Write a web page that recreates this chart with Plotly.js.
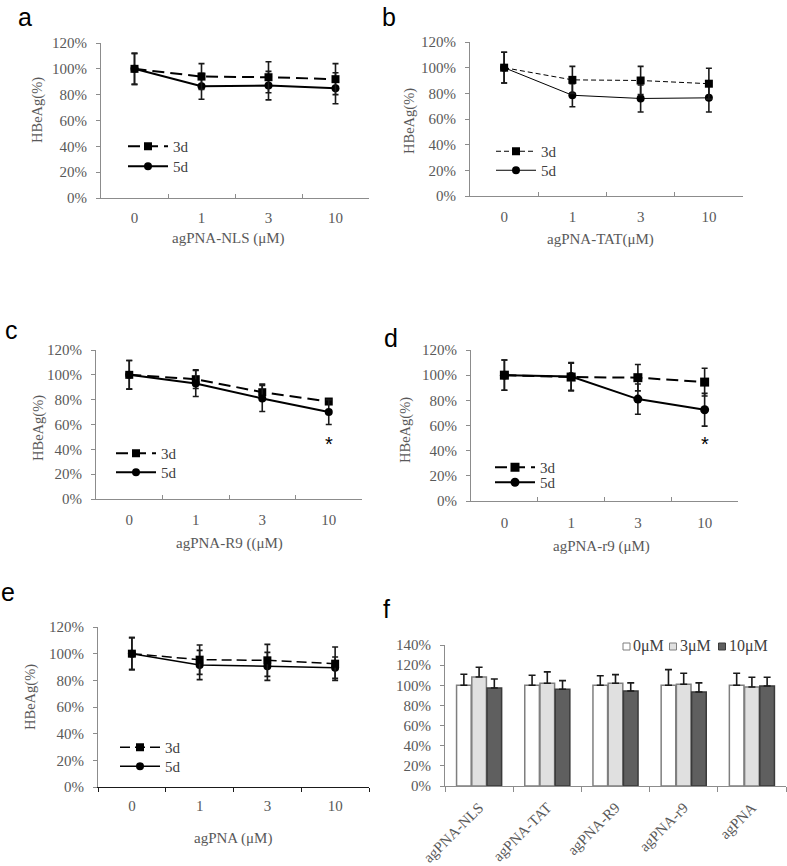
<!DOCTYPE html>
<html><head><meta charset="utf-8">
<script src="https://cdn.plot.ly/plotly-3.0.1.min.js"></script>
<style>html,body{margin:0;padding:0;background:#fff}#chart{width:787px;height:866px}</style>
</head><body><div id="chart"></div>
<script>
// ---------- data ----------
const doses = ['0', '1', '3', '10'];
const seriesNames = ['3d', '5d'];

const nls3d = [100, 94, 93.5, 92];
const nls3dErr = [12, 10, 12, 12];
const nls5d = [100, 86.5, 87, 85];
const nls5dErr = [12, 10, 11, 12];

const tat3d = [100, 90.5, 90, 87.5];
const tat3dErr = [12, 10.5, 11, 12];
const tat5d = [100, 78.5, 76, 76.5];
const tat5dErr = [12, 9, 10.5, 11];

const upR9_3d = [100, 96.5, 86, 78.5];
const upR9_3dErr = [11.5, 7.5, 6.5, 1.5];
const upR9_5d = [100, 93, 81, 70];
const upR9_5dErr = [11.5, 10.5, 10.5, 10];

const lowR9_3d = [100, 98.5, 98, 94.5];
const lowR9_3dErr = [12, 11, 10.5, 11];
const lowR9_5d = [100, 99, 81, 72.5];
const lowR9_5dErr = [12, 11, 12, 13];

const pna3d = [100, 95.5, 95, 92.5];
const pna3dErr = [12, 11, 12, 12.5];
const pna5d = [100, 91.5, 90.5, 89.5];
const pna5dErr = [12, 11, 10.5, 8];

const constructs = ['agPNA-NLS', 'agPNA-TAT', 'agPNA-R9', 'agPNA-r9', 'agPNA'];
const concNames = ['0μM', '3μM', '10μM'];
const conc0 = [100, 100, 100, 100, 100];
const conc0Err = [11, 10, 9.5, 15.5, 12];
const conc3 = [108.3, 102, 102, 101, 98.3];
const conc3Err = [9.6, 11.3, 8.6, 11, 9.7];
const conc10 = [97.3, 96, 94.4, 93.4, 99.3];
const conc10Err = [9, 8.6, 8, 9, 8.7];
const noMinus = [0, 0, 0, 0, 0];

// ---------- layout helpers ----------
const W = 787, H = 866;
const fx = p => p / W;
const fy = p => 1 - p / H;
const SERIF = 'Liberation Serif';
const SANS = 'Liberation Sans';
const GREY = '#595959';
const AX = '#8c8c8c';

// leg: [x, top of 3d legend, top of 5d legend]
const panels = [
  {k: '', letter: 'a', s3: nls3d, e3: nls3dErr, s5: nls5d, e5: nls5dErr, title: 'agPNA-NLS (μM)',
   box: [101, 369, 43, 198], lw: 2, dash: '12px,6px', top3: true, ticks: 'inside', xline: AX, xstand: 6,
   titleXY: [228, 238], yTitleXY: [38, 110], letterXY: [25, 17], leg: [123, 130, 150], ms: 8},
  {k: '2', letter: 'b', s3: tat3d, e3: tat3dErr, s5: tat5d, e5: tat5dErr, title: 'agPNA-TAT(μM)',
   box: [470, 743, 42, 196], lw: 1, dash: '5px,3px', top3: true, ticks: 'inside', xline: AX, xstand: 7,
   titleXY: [600, 240], yTitleXY: [410, 121], letterXY: [389, 17], leg: [491, 135, 154], ms: 8},
  {k: '3', letter: 'c', s3: upR9_3d, e3: upR9_3dErr, s5: upR9_5d, e5: upR9_5dErr, title: 'agPNA-R9 ((μM)',
   box: [96, 362, 350, 499], lw: 2, dash: '12px,6px', top3: false, ticks: 'inside', xline: AX, xstand: 7,
   titleXY: [229, 543], yTitleXY: [38, 428], letterXY: [11, 330], leg: [111, 437, 456], ms: 8},
  {k: '4', letter: 'd', s3: lowR9_3d, e3: lowR9_3dErr, s5: lowR9_5d, e5: lowR9_5dErr, title: 'agPNA-r9 (μM)',
   box: [471, 738, 350, 501], lw: 2, dash: '12px,6px', top3: false, ticks: 'inside', xline: AX, xstand: 8,
   titleXY: [601, 546], yTitleXY: [405, 430], letterXY: [391, 338], leg: [490, 451, 466], ms: 9},
  {k: '5', letter: 'e', s3: pna3d, e3: pna3dErr, s5: pna5d, e5: pna5dErr, title: 'agPNA (μM)',
   box: [98, 369, 627, 787], lw: 1.5, dash: '10px,5px', top3: true, ticks: 'outside', xline: '#1a1a1a', xstand: 5,
   titleXY: [233, 838], yTitleXY: [30, 697], letterXY: [8, 592], leg: [115, 731, 750], ms: 8}
];

const traces = [];
const annotations = [];
const shapes = [];
const layout = {
  width: W, height: H,
  margin: {l: 0, r: 0, t: 0, b: 0},
  paper_bgcolor: '#fff', plot_bgcolor: 'rgba(0,0,0,0)',
  font: {family: SERIF, size: 15, color: GREY},
  showlegend: true,
  barmode: 'group', bargap: 0.33, bargroupgap: 0.04
};

function tickFont() { return {family: SERIF, size: 15, color: GREY}; }
function legendBox(x, top) {
  return {
    x: fx(x), y: fy(top), xanchor: 'left', yanchor: 'top',
    bgcolor: 'rgba(0,0,0,0)', borderwidth: 0, itemwidth: 40,
    font: {family: SERIF, size: 15, color: '#404040'}
  };
}

let legIdx = 0;
panels.forEach(p => {
  const xa = 'x' + p.k, ya = 'y' + p.k;
  // one legend box per series so each row can sit where the reference shows it
  const leg3 = legIdx === 0 ? 'legend' : 'legend' + (legIdx + 1);
  const leg5 = 'legend' + (legIdx + 2);
  legIdx += 2;
  const mk = (name, y, err, sym, dash, leg) => ({
    type: 'scatter', mode: 'lines+markers', name: name, x: doses, y: y,
    xaxis: xa, yaxis: ya, legend: leg,
    line: {color: '#000', width: p.lw, dash: dash},
    marker: {symbol: sym, size: p.ms, color: '#000'},
    error_y: {type: 'data', array: err, visible: true, color: '#1a1a1a', thickness: 1.6, width: 3}
  });
  const t3 = mk(seriesNames[0], p.s3, p.e3, 'square', p.dash, leg3);
  const t5 = mk(seriesNames[1], p.s5, p.e5, 'circle', 'solid', leg5);
  if (p.top3) { traces.push(t5, t3); } else { traces.push(t3, t5); }
  layout[leg3] = legendBox(p.leg[0], p.leg[1]);
  layout[leg5] = legendBox(p.leg[0], p.leg[2]);

  const [x0, x1, y0, y1] = p.box;
  layout['xaxis' + p.k] = {
    domain: [fx(x0), fx(x1)], anchor: ya, type: 'category', range: [-0.5, 3.5],
    tickson: 'boundaries', ticks: p.ticks, ticklen: 4, tickcolor: p.xline, tickwidth: 1,
    showline: true, linecolor: p.xline, linewidth: 1, showgrid: false, zeroline: false,
    tickfont: tickFont(), ticklabelstandoff: p.xstand, fixedrange: true
  };
  layout['yaxis' + p.k] = {
    domain: [fy(y1), fy(y0)], anchor: xa, range: [0, 120], tick0: 0, dtick: 20, ticksuffix: '%',
    ticks: 'outside', ticklen: 4, tickcolor: AX, showline: true, linecolor: AX, linewidth: 1,
    showgrid: false, zeroline: false, tickfont: tickFont(), ticklabelstandoff: 6, fixedrange: true
  };
  annotations.push({
    xref: 'paper', yref: 'paper', x: fx(p.titleXY[0]), y: fy(p.titleXY[1]),
    xanchor: 'center', yanchor: 'middle', showarrow: false, text: p.title,
    font: {family: SERIF, size: 15, color: GREY}
  });
  annotations.push({
    xref: 'paper', yref: 'paper', x: fx(p.yTitleXY[0]), y: fy(p.yTitleXY[1]),
    xanchor: 'center', yanchor: 'middle', showarrow: false, text: 'HBeAg(%)', textangle: -90,
    font: {family: SERIF, size: 14.5, color: GREY}
  });
  annotations.push({
    xref: 'paper', yref: 'paper', x: fx(p.letterXY[0]), y: fy(p.letterXY[1]),
    xanchor: 'center', yanchor: 'middle', showarrow: false, text: p.letter,
    font: {family: SANS, size: 25, color: '#000'}
  });
});

// significance marks (panels c and d, at the 10 μM category)
const sigIdx = doses.indexOf('10');
annotations.push({xref: 'x3', yref: 'y3', x: sigIdx, y: 44, text: '*', showarrow: false,
  xanchor: 'center', yanchor: 'middle', font: {family: SANS, size: 20, color: '#000'}});
annotations.push({xref: 'x4', yref: 'y4', x: sigIdx, y: 45, text: '*', showarrow: false,
  xanchor: 'center', yanchor: 'middle', font: {family: SANS, size: 20, color: '#000'}});

// ---------- panel f (bars) ----------
const barStyles = [
  {fill: '#ffffff', edge: '#7f7f7f'},
  {fill: '#e0e0e0', edge: '#7f7f7f'},
  {fill: '#5f5f5f', edge: '#3a3a3a'}
];
const barVals = [conc0, conc3, conc10];
const barErrs = [conc0Err, conc3Err, conc10Err];
concNames.forEach((n, i) => {
  traces.push({
    type: 'bar', name: n, x: constructs, y: barVals[i], xaxis: 'x6', yaxis: 'y6', showlegend: false,
    marker: {color: barStyles[i].fill, line: {color: barStyles[i].edge, width: 1.5}},
    error_y: {type: 'data', symmetric: false, array: barErrs[i], arrayminus: noMinus, visible: true,
      color: '#1a1a1a', thickness: 1.6, width: 3.5}
  });
});
layout.xaxis6 = {
  domain: [fx(445), fx(786)], anchor: 'y6', type: 'category', range: [-0.5, 4.5],
  tickson: 'boundaries', ticks: 'outside', ticklen: 5, tickcolor: AX, showline: true, linecolor: AX,
  showgrid: false, zeroline: false, tickangle: -45, tickfont: tickFont(), ticklabelstandoff: 6, fixedrange: true
};
layout.yaxis6 = {
  domain: [fy(786), fy(645)], anchor: 'x6', range: [0, 140], tick0: 0, dtick: 20, ticksuffix: '%',
  ticks: 'outside', ticklen: 4, tickcolor: AX, showline: true, linecolor: AX, showgrid: false,
  zeroline: false, tickfont: tickFont(), ticklabelstandoff: 6, fixedrange: true
};
// compact legend for f
const fLegendX = [623, 669.5, 718.5];
concNames.forEach((n, i) => {
  const sx = fLegendX[i];
  shapes.push({type: 'rect', xref: 'paper', yref: 'paper',
    x0: fx(sx), x1: fx(sx + 7), y0: fy(650), y1: fy(643),
    fillcolor: barStyles[i].fill, line: {color: barStyles[i].edge, width: 1}});
  annotations.push({xref: 'paper', yref: 'paper', x: fx(sx + 8), y: fy(646), xanchor: 'left', yanchor: 'middle',
    showarrow: false, text: n, font: {family: SERIF, size: 16, color: '#404040'}});
});
annotations.push({xref: 'paper', yref: 'paper', x: fx(386), y: fy(609), xanchor: 'center', yanchor: 'middle',
  showarrow: false, text: 'f', font: {family: SANS, size: 25, color: '#000'}});

layout.annotations = annotations;
layout.shapes = shapes;

Plotly.newPlot('chart', traces, layout, {displayModeBar: false, staticPlot: true});
</script>
</body></html>
